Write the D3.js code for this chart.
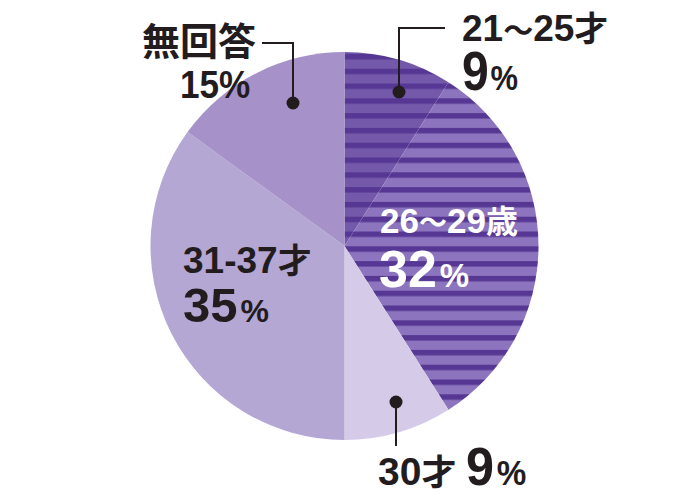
<!DOCTYPE html>
<html><head><meta charset="utf-8">
<script src="https://cdn.jsdelivr.net/npm/d3@7"></script>
<style>
html,body{margin:0;padding:0;background:#fff;}
svg{display:block;}
.num{font-family:"Liberation Sans Narrow","Liberation Sans",Arial,sans-serif;font-weight:bold;}
.cjk{font-family:"Noto Sans CJK JP","Noto Sans CJK SC",sans-serif;font-weight:bold;}
</style></head>
<body>
<svg id="chart" width="700" height="499"></svg>
<script>
// ---- data ----
const categories = ["21〜25才", "26〜29歳", "30才", "31-37才", "無回答"];
const values = [9, 32, 9, 35, 15];
const percentLabels = ["9", "32", "9", "35", "15"];

// ---- styles / layout ----
const svg = d3.select("#chart");
const cx = 344.5, cy = 246, R = 194;
const ink = "#231c1f";

const defs = svg.append("defs");
function stripe(id, light, dark) {
  const p = defs.append("pattern").attr("id", id)
    .attr("patternUnits", "userSpaceOnUse")
    .attr("x", 0).attr("y", 59.5).attr("width", 20).attr("height", 14.8);
  p.append("rect").attr("width", 20).attr("height", 14.8).attr("fill", light);
  p.append("rect").attr("width", 20).attr("height", 5.5).attr("fill", dark);
}
stripe("s1", "#7459aa", "#563894");
stripe("s2", "#8d74be", "#563894");
const fills = ["url(#s1)", "url(#s2)", "#d5cbe8", "#b4a7d4", "#a692c9"];

const pie = d3.pie().sort(null).value(d => d)(values);
const arc = d3.arc().innerRadius(0).outerRadius(R);
const g = svg.append("g").attr("transform", `translate(${cx},${cy})`);
g.selectAll("path").data(pie).join("path")
  .attr("d", arc)
  .attr("fill", (d, i) => fills[i]);

// ---- leader lines ----
const leaders = [
  {pts: [[445, 28], [399, 28], [399, 92]], dot: [399, 92]},
  {pts: [[262, 43], [293, 43], [293, 103]], dot: [293, 103]},
  {pts: [[396, 446], [396, 402]], dot: [396, 402]}
];
leaders.forEach(l => {
  svg.append("path").attr("d", d3.line()(l.pts))
    .attr("fill", "none").attr("stroke", ink).attr("stroke-width", 2);
  svg.append("circle").attr("cx", l.dot[0]).attr("cy", l.dot[1]).attr("r", 6.5).attr("fill", ink);
});

// ---- labels ----
function label(x, y, parts, color, sx) {
  const t = svg.append("text")
    .attr("transform", `translate(${x},${y}) scale(${sx || 1},1)`)
    .attr("fill", color || ink);
  parts.forEach(p => {
    t.append("tspan").attr("class", p.cjk ? "cjk" : "num")
      .attr("font-size", p.size).attr("dx", p.dx || 0).text(p.t);
  });
  return t;
}

// 21〜25才
label(462, 41, [
  {t: "21", size: 37}, {t: "〜", size: 30, cjk: true}, {t: "25", size: 37}, {t: "才", size: 34, cjk: true}
]);
label(462, 90, [{t: percentLabels[0], size: 56}, {t: "%", size: 36, dx: 2}], ink, 0.86);

// 26〜29歳
label(380, 233, [
  {t: "26", size: 35}, {t: "〜", size: 28, cjk: true}, {t: "29", size: 35}, {t: "歳", size: 32, cjk: true}
], "#ffffff");
label(379, 287, [{t: percentLabels[1], size: 52}, {t: "%", size: 33, dx: 3}], "#ffffff");

// 30才 9%
label(378, 485, [{t: "30", size: 39}, {t: "才", size: 35, cjk: true}]);
label(466, 485, [{t: percentLabels[2], size: 53}, {t: "%", size: 35, dx: 3}], ink, 0.95);

// 31-37才
label(183, 273, [{t: "31-37", size: 37}, {t: "才", size: 34, cjk: true}]);
label(183, 322, [{t: percentLabels[3], size: 49}, {t: "%", size: 32, dx: 3}]);

// 無回答
label(142, 55, [{t: categories[4], size: 38, cjk: true}]);
label(180, 98, [{t: percentLabels[4], size: 39}, {t: "%", size: 39}], ink, 0.9);
</script>
</body></html>
